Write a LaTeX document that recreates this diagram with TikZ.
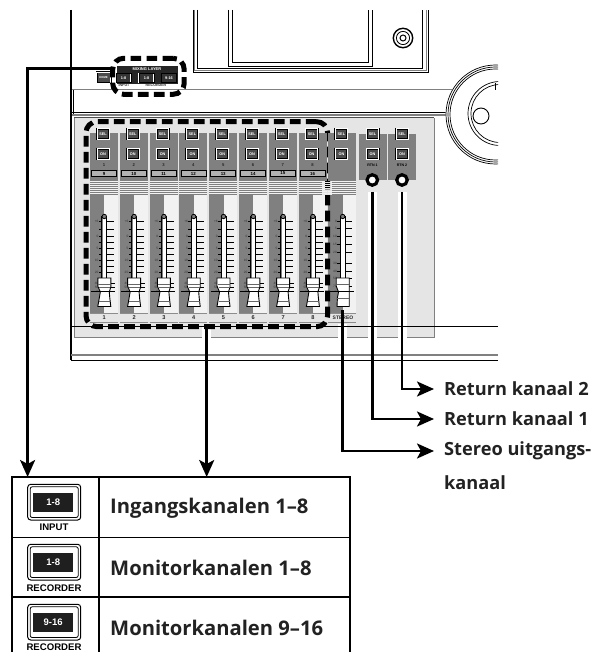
\documentclass[tikz,border=0pt]{standalone}
\usepackage{fontspec}
\setmainfont{Open Sans}
\newfontfamily\hv{Liberation Sans}
\usetikzlibrary{arrows.meta,calc}
\definecolor{stripgray}{HTML}{808080}
\definecolor{panelgray}{HTML}{E5E5E5}
\definecolor{lightgray2}{HTML}{F2F2F2}
\definecolor{labelink}{HTML}{222222}
\tikzset{
  tiny/.style={font=\hv\bfseries\fontsize{3.6}{4}\selectfont,inner sep=0pt,text=black!85},
  scalelbl/.style={font=\hv\fontsize{3.2}{4}\selectfont,inner sep=0pt,anchor=east,text=black!80},
  btn/.style={draw=black,line width=.7pt,double=white,double distance=.6pt,fill=black!70,text=white,minimum width=12pt,minimum height=10.5pt,inner sep=0pt,font=\hv\bfseries\fontsize{3.8}{4}\selectfont},
  dashbox/.style={draw=black,line width=5pt,dash pattern=on 10.7pt off 5.3pt,rounded corners=11pt,inner sep=0pt,outer sep=0pt,anchor=north west},
  conn/.style={draw=black,line width=2.6pt,-{Stealth[length=17pt,width=15pt,inset=4pt]}},
  halo/.style={draw=white,line width=9pt},
  cell/.style={draw=black,line width=1.2pt,inner sep=0pt,outer sep=0pt,anchor=north west},
  bigtxt/.style={font=\bfseries\fontsize{20.2}{24}\selectfont,text=labelink,inner sep=0pt,anchor=west},
  sidetxt/.style={font=\bfseries\fontsize{18.2}{22}\selectfont,text=labelink,inner sep=0pt,anchor=west},
  iconlbl/.style={font=\hv\bfseries\fontsize{9.6}{10}\selectfont,inner sep=0pt},
  icondark/.style={fill=black!88,text=white,minimum width=40pt,minimum height=19pt,inner sep=0pt,font=\hv\bfseries\fontsize{9.5}{10}\selectfont},
}
\newcommand{\tablebtn}[5]{%
  \draw[line width=1pt,fill=white,rounded corners=3pt] (27.7,#1) rectangle (80.7,#1+35.7);
  \draw[line width=.8pt,rounded corners=2pt] (30.2,#1+2.5) rectangle (78.2,#1+33.2);
  \node[icondark] (#2) at (53.2,#1+17.8) {#3};
  \node[iconlbl] (#2cap) at (54,#5) {#4};
}
\begin{document}
\begin{tikzpicture}[x=1pt,y=-1pt]
\clip (0,0) rectangle (602,652);
\fill[white] (0,0) rectangle (602,652);
% console outline
\draw[line width=1.2pt] (71,10) -- (71,360);
\draw[line width=1pt] (73.5,90) -- (73.5,114);
\draw[stripgray,line width=1.5pt] (72,89.7) -- (452,89.7);
\draw[line width=1pt] (72,113) -- (447,113);
\draw[stripgray,line width=1.2pt] (72,115) -- (447,115);
% screen
\draw[stripgray,line width=1.6pt] (194,10) -- (194,70.6) -- (426.5,70.6) -- (426.5,10);
\draw[line width=1pt] (197.5,10) -- (197.5,69) -- (422,69) -- (422,10);
\draw[line width=1pt] (193,10) -- (193,73) -- (428,73) -- (428,10);
\draw[line width=.8pt] (228,10) -- (228,66) -- (372,66) -- (372,10);
\draw[line width=.8pt] (232,10) -- (232,62.3) -- (368,62.3) -- (368,10);
% knob top right
\draw[line width=1.4pt] (403,38) circle (9.7pt);
\draw[line width=.8pt] (403,38) circle (6.6pt);
\draw[line width=1pt] (403,38) circle (3pt);
% jog wheel
\begin{scope}
\clip (440,60) rectangle (498,170);
\fill[white] (495.5,114.5) circle (50pt);
\foreach \r in {49.5,47.5,45.5}{\draw[line width=.7pt] (495.5,114.5) circle (\r pt);}
\foreach \r in {32,29}{\draw[line width=.7pt] (500,113.5) circle (\r pt);}
\draw[line width=.9pt,fill=white] (481,116) circle (8pt);
\draw[line width=.8pt] (495,83) -- (495,90);
\end{scope}
% channel panel
\fill[panelgray] (74,118) rectangle (434,337);
\draw[stripgray,line width=1pt] (434,118) -- (434,337) -- (74,337) -- (74,118);
\draw[black!70,line width=.8pt] (74,117.5) -- (434,117.5);
% channel strips
\foreach \i [evaluate=\i as \L using {90+29.8*(\i-1)}, evaluate=\i as \F using {104.3+29.8*(\i-1)}] in {1,...,9}{
  \fill[stripgray] (\L,133.5) rectangle (\L+28,181);
  \fill[lightgray2] (\L,181) rectangle (\L+28,195);
  \foreach \s in {182,184,...,194}{\draw[stripgray,line width=.8pt] (\L,\s) -- (\L+28,\s);}
  \fill[stripgray] (\L,195) rectangle (\F,313);
  \fill[lightgray2] (\F,195) rectangle (\L+28,313);
  \draw[black!45,line width=.8pt] (\L,313.3) -- (\L+28,313.3);
  \draw[black!45,line width=.8pt] (\L,322) -- (\L+28,322);
  \node[btn] (sel\i) at (\L+13,134) {SEL};
  \node[btn] (on\i) at (\L+13,154) {ON};
  \draw[line width=.7pt] (\F-2.5,216) rectangle (\F+2.5,278);
  \fill[white] (\F-1.4,217) rectangle (\F+2,278);
  \draw[line width=.8pt,fill=black!50] (\F,216.5) circle (2.2pt);
}
\foreach \i [evaluate=\i as \L using {90+29.8*(\i-1)}, evaluate=\i as \F using {104.3+29.8*(\i-1)}, evaluate=\i as \B using int(\i+8)] in {1,...,8}{
  \node[tiny,font=\hv\bfseries\fontsize{4.2}{5}\selectfont] (top\i) at (\L+14,165) {\i};
  \node[draw=black,line width=.8pt,fill=black!30,minimum width=25pt,minimum height=6.5pt,inner sep=0pt,font=\hv\bfseries\fontsize{4.4}{5}\selectfont] (box\i) at (\L+14,173.5) {\B};
  \foreach \y in {221.7,229.3,236.7,242,248.3,254,260,266,272.7}{
    \draw[line width=.6pt] (\F-5.3,\y) -- (\F-2.7,\y);
    \draw[line width=.6pt] (\F+2.7,\y) -- (\F+10,\y);
  }
  \foreach \y/\t [count=\c] in {221.7/+6,236.7/0,248.3/5,260/10,272.7/20,283.5/40,287.5/50,291.7/∞}{
    \node[scalelbl] (sc\i-\c) at (\F-5.6,\y) {\t};
  }
  \foreach \y in {283.5,287.5}{\draw[line width=.5pt] (\F+6,\y) -- (\F+10.5,\y);}
  \draw[line width=.9pt,fill=white] (\F-6.5,278) -- (\F+6.5,278) -- (\F+6.5,287) -- (\F+5,292) -- (\F+5.5,298) -- (\F+6.5,306.5) -- (\F-6.5,306.5) -- (\F-5,298) -- (\F-4,292) -- (\F-6.5,286) -- cycle;
  \draw[black!60,line width=.6pt] (\F-6,284) -- (\F+6,284);
  \draw[black!60,line width=.6pt] (\F-5,287.5) -- (\F+6,287.5);
  \draw[line width=.9pt] (\F-13,291.7) -- (\F+10.7,291.7);
  \draw[black!60,line width=.6pt] (\F-5,301.5) -- (\F+6,301.5);
  \node[tiny,font=\hv\bfseries\fontsize{5.6}{6}\selectfont] (num\i) at (\F,317.5) {\i};
}
% stereo fader
\foreach \y in {221.7,228,236.7,244,252,263,271,278,286}{
  \draw[line width=.6pt] (\fpeval{342.7-5.3},\y) -- (\fpeval{342.7-2.7},\y);
  \draw[line width=.6pt] (\fpeval{342.7+2.7},\y) -- (\fpeval{342.7+9.5},\y);
}
\foreach \y/\t [count=\c] in {221.7/0,228/5,236.7/10,244/15,252/20,263/30,271/40,278/50,286/70,291.7/∞}{
  \node[scalelbl] (st\c) at (337,\y) {\t};
}
\draw[line width=.9pt,fill=white] (336.2,278) -- (349.2,278) -- (349.2,287) -- (349.2,306.5) -- (337,306.5) -- (337.4,298) -- (338.5,292) -- (336.2,286) -- cycle;
\draw[black!60,line width=.6pt] (337,284) -- (349,284);
\draw[line width=.9pt] (330,291.7) -- (354,291.7);
\draw[black!60,line width=.6pt] (337,298) -- (349,298);
\node[tiny,font=\hv\bfseries\fontsize{5}{6}\selectfont] (stereo) at (343,318) {STEREO};
% return strips
\foreach \i/\x in {1/358.5,2/388}{
  \fill[stripgray] (\x,134) rectangle (\x+28,180.5);
  \node[btn] (rsel\i) at (\x+14,134) {SEL};
  \node[btn] (ron\i) at (\x+14,154) {ON};
  \node[tiny,text=black] (rtn\i) at (\x+14,165.5) {RTN \i};
}
% halos under the connectors
\coordinate (rt1) at (372.3,192);
\coordinate (rt2) at (402,192);
\coordinate (stt) at (342.7,310);
\coordinate (chb) at (206.7,327);
\draw[halo] (rt1) -- (372.3,345);
\draw[halo] (rt2) -- (402,345);
\draw[halo] (342.7,324) -- (342.7,345);
\draw[halo] (chb) -- (206.7,345);
\foreach \i/\x in {1/372.3,2/402}{
  \node[circle,draw=black,line width=3.2pt,fill=white,minimum size=10.5pt,inner sep=0pt] (rknob\i) at (\x,180) {};
}
% horizontal rules
\draw[line width=.8pt] (71,326) -- (498,326);
\draw[stripgray,line width=1.6pt] (71,355) -- (498,355);
\draw[line width=1pt] (71,360) -- (498,360);
% MIXING LAYER section
\node[btn,minimum width=14pt,minimum height=11pt] (home) at (103.5,77.5) {\fontsize{2.8}{3}\selectfont HOME};
\fill[black!85] (117,66) rectangle (178,84);
\node[tiny,text=white,font=\hv\bfseries\fontsize{4}{5}\selectfont] (mixing) at (147,69) {MIXING LAYER};
\foreach \n/\x/\t in {a/123.5/1-8,b/146.5/1-8,c/169/9-16}{
  \node[btn,draw=white,double=black,line width=.4pt,double distance=.4pt,minimum width=15pt,minimum height=9pt,fill=black!80] (lay\n) at (\x,77.7) {\t};
}
\node[tiny] (inlbl) at (124,85.6) {INPUT};
\node[tiny] (reclbl) at (156,85.6) {RECORDER};
% dashed highlights
\node[dashbox,minimum width=71.5pt,minimum height=36pt] (layer) at (112.7,58.3) {};
\node[dashbox,minimum width=241.6pt,minimum height=205pt] (channels) at (86,121.7) {};
% channel 8 / stereo strips cover the dash so only a hairline stays visible
\fill[stripgray] (298.6,133.5) rectangle (327,181);
\fill[stripgray] (328,133.5) rectangle (356.4,181);
\node[btn] (sel8b) at (311.6,134) {SEL};
\node[btn] (on8b) at (311.6,154) {ON};
\node[btn] (sel9b) at (341.4,134) {SEL};
\node[btn] (on9b) at (341.4,154) {ON};
\node[tiny,font=\hv\bfseries\fontsize{4.2}{5}\selectfont] (top8b) at (312.6,165) {8};
\node[draw=black,line width=.8pt,fill=black!30,minimum width=25pt,minimum height=6.5pt,inner sep=0pt,font=\hv\bfseries\fontsize{4.4}{5}\selectfont] (box8b) at (312.6,173.5) {16};
\foreach \s in {182,184,...,194}{\draw[panelgray,line width=.8pt] (322,\s) -- (332,\s);}
% table
\node[cell,minimum width=87pt,minimum height=60.5pt] (i1) at (12,477) {};
\node[cell,minimum width=251pt,minimum height=60.5pt] (t1) at (99,477) {};
\node[cell,minimum width=87pt,minimum height=59.5pt] (i2) at (12,537.5) {};
\node[cell,minimum width=251pt,minimum height=59.5pt] (t2) at (99,537.5) {};
\node[cell,minimum width=87pt,minimum height=70pt] (i3) at (12,597) {};
\node[cell,minimum width=251pt,minimum height=70pt] (t3) at (99,597) {};
\tablebtn{484.3}{ia}{1-8}{INPUT}{526.9}
\tablebtn{544.3}{ib}{1-8}{RECORDER}{587.7}
\tablebtn{604.3}{ic}{9-16}{RECORDER}{646.9}
\node[bigtxt] (la) at (110,508) {Ingangskanalen 1–8};
\node[bigtxt] (lb) at (110,568) {Monitorkanalen 1–8};
\node[bigtxt] (lc) at (110,627.5) {Monitorkanalen 9–16};
% right labels
\node[sidetxt] (r2) at (444,389) {Return kanaal 2};
\node[sidetxt] (r1) at (444,419) {Return kanaal 1};
\node[sidetxt] (so) at (444,451) {Stereo uitgangs-};
\node[sidetxt] (so2) at (444,483) {kanaal};
% connectors
\coordinate (bend) at (27.6,68.5);
\draw[conn] (layer.west |- bend) -- (bend) -- (bend |- i1.north);
\draw[conn] (chb) -- (chb |- t1.north);
\draw[conn] (rt2) |- ([xshift=-10pt]r2.west);
\draw[conn] (rt1) |- ([xshift=-10pt]r1.west);
\draw[conn] (stt) |- ([xshift=-10pt]so.west);
\end{tikzpicture}
\end{document}
